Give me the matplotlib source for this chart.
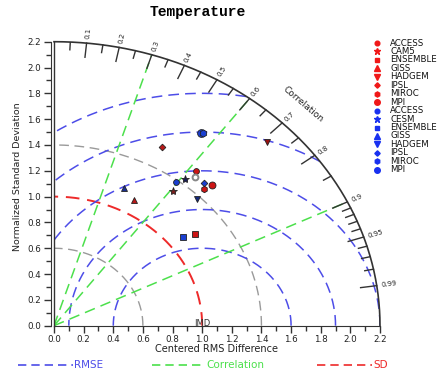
import numpy as np
import matplotlib.pyplot as plt
from matplotlib.lines import Line2D

# Normalized standard deviation and correlation of each model vs IMD
red_names = ["ACCESS", "CAM5", "ENSEMBLE", "GISS", "HADGEM", "IPSL", "MIROC", "MPI"]
red_std = [1.533, 1.315, 1.186, 1.115, 2.026, 1.567, 1.466, 1.528]
red_corr = [0.624, 0.612, 0.802, 0.486, 0.710, 0.464, 0.690, 0.700]

blue_names = ["ACCESS", "CESM", "ENSEMBLE", "GISS", "HADGEM", "IPSL", "MIROC", "MPI"]
blue_std = [1.383, 1.439, 1.109, 1.165, 1.378, 1.501, 1.797, 1.790]
blue_corr = [0.595, 0.614, 0.783, 0.405, 0.702, 0.674, 0.558, 0.555]

# extra open marker (unlabelled)
extra_std = [1.492]
extra_corr = [0.637]

marker_set = ["o", "*", "s", "^", "v", "D", "h", "o"]
marker_size = [4.2, 6.0, 4.4, 4.6, 4.6, 3.4, 4.6, 5.0]

rmse_levels = [0.6, 0.9, 1.2, 1.5, 1.8]
sd_levels = [0.6, 1.4]
ref_sd = 1.0
corr_lines = [0.3, 0.6, 0.9]
corr_major = [0.1, 0.2, 0.3, 0.4, 0.5, 0.6, 0.7, 0.8, 0.9, 0.95, 0.99]
corr_minor = [0.05, 0.15, 0.25, 0.35, 0.45, 0.55, 0.65, 0.75, 0.85,
              0.91, 0.92, 0.93, 0.94, 0.96, 0.97, 0.98]
RMAX = 2.2

BLUE = "#4d4de8"
GREEN = "#4ce04c"
RED = "#ee2a2a"
GRAY = "#9a9a9a"
dash = (0, (7, 4))

fig = plt.figure(figsize=(4.4, 3.75), dpi=100)
ax = fig.add_axes([54 / 440, 1 - 325.7 / 375, 326 / 440, 284 / 375])
ax.set_xlim(0, RMAX)
ax.set_ylim(0, RMAX)
for s in ["top", "right"]:
    ax.spines[s].set_visible(False)
ax.spines["left"].set_position(("outward", 2.5))
ax.spines["left"].set_color("#333333")
ax.spines["bottom"].set_color("#333333")

ticks = np.round(np.arange(0, 2.21, 0.2), 1)
ax.set_xticks(ticks)
ax.set_yticks(ticks)
ax.set_xticks(np.round(np.arange(0.1, 2.2, 0.2), 1), minor=True)
ax.set_yticks(np.round(np.arange(0.1, 2.2, 0.2), 1), minor=True)
ax.set_xticklabels([f"{t:.1f}" for t in ticks])
ax.set_yticklabels([f"{t:.1f}" for t in ticks])
ax.tick_params(which="major", length=5, width=1, labelsize=6.3, pad=2,
               color="#333333", labelcolor="#222222")
ax.tick_params(which="minor", length=3.5, width=1, color="#333333")

t = np.linspace(0, np.pi / 2, 400)

# circles about the origin
for r in sd_levels:
    ax.plot(r * np.cos(t), r * np.sin(t), color=GRAY, lw=1, ls=dash)
ax.plot(ref_sd * np.cos(t), ref_sd * np.sin(t), color=RED, lw=1.4, ls=dash)

# centered RMS difference arcs around the reference point
tt = np.linspace(0, np.pi, 600)
for r in rmse_levels:
    x = ref_sd + r * np.cos(tt)
    y = r * np.sin(tt)
    keep = (np.hypot(x, y) <= RMAX + 1e-3) & (x >= 0)
    ax.plot(np.where(keep, x, np.nan), np.where(keep, y, np.nan),
            color=BLUE, lw=1.1, ls=dash)

# correlation rays
for c in corr_lines:
    th = np.arccos(c)
    ax.plot([0, RMAX * np.cos(th)], [0, RMAX * np.sin(th)], color=GREEN, lw=1.1, ls=dash)

# outer arc with correlation ticks
ax.plot(RMAX * np.cos(t), RMAX * np.sin(t), color="#333333", lw=1.2, clip_on=False)
ax.plot([0, 0], [0, RMAX], color="#333333", lw=1, clip_on=False)
for c in corr_minor:
    th = np.arccos(c)
    ax.plot([RMAX * np.cos(th), (RMAX - 0.06) * np.cos(th)],
            [RMAX * np.sin(th), (RMAX - 0.06) * np.sin(th)], color="#333333", lw=1)
for c in corr_major:
    th = np.arccos(c)
    ax.plot([RMAX * np.cos(th), (RMAX - 0.11) * np.cos(th)],
            [RMAX * np.sin(th), (RMAX - 0.11) * np.sin(th)], color="#333333", lw=1)
    ax.text((RMAX + 0.03) * np.cos(th), (RMAX + 0.03) * np.sin(th), f"{c:g}",
            rotation=np.degrees(th), transform_rotates_text=True,
            rotation_mode="anchor", ha="left", va="center", fontsize=5,
            color="#222222", clip_on=False)

thc = np.arccos(0.70)
ax.text(2.4 * np.cos(thc), 2.4 * np.sin(thc), "Correlation",
        rotation=np.degrees(thc) - 90, transform_rotates_text=True,
        rotation_mode="anchor", ha="center", va="center", fontsize=6.5,
        color="#222222", clip_on=False)
ax.text(1.0, 0.02, "IMD", ha="center", va="center", fontsize=6, color="#333333")

# model points
def polar_xy(std, corr):
    std = np.asarray(std)
    corr = np.asarray(corr)
    return std * corr, std * np.sqrt(1 - corr ** 2)

rx, ry = polar_xy(red_std, red_corr)
bx, by = polar_xy(blue_std, blue_corr)
ex, ey = polar_xy(extra_std, extra_corr)

red_face = ["#cc1515", "#7a1f1f", "#cc1515", "#b81818", "#9a1010", "#b81818", "#cc1515", "#cc1515"]
blue_face = ["#1a3fd0", "#1a1f55", "#1a3fd0", "#1a2f90", "#14287a", "#1a3fd0", "#1a3fd0", "#1a3fd0"]

for i in [7, 6]:
    ax.plot(bx[i], by[i], marker=marker_set[i], ms=marker_size[i] + 0.6, mfc=blue_face[i],
            mec="#222222", mew=0.6, ls="none", zorder=5)
for i in range(6):
    ax.plot(bx[i], by[i], marker=marker_set[i], ms=marker_size[i], mfc=blue_face[i],
            mec="#222222", mew=0.6, ls="none", zorder=5)
for i in range(8):
    ax.plot(rx[i], ry[i], marker=marker_set[i], ms=marker_size[i], mfc=red_face[i],
            mec="#222222", mew=0.6, ls="none", zorder=5)
ax.plot(ex, ey, marker="o", ms=4.2, mfc="white", mec="#888888", mew=1.4, ls="none", zorder=5)

# side legend
names = red_names + blue_names
colors = ["#f01818"] * 8 + ["#1830f0"] * 8
for i, name in enumerate(names):
    yf = 1 - (43 + i * 8.45) / 375
    m = marker_set[i % 8]
    fig.add_artist(Line2D([377 / 440], [yf], transform=fig.transFigure, marker=m,
                          ms=marker_size[i % 8] * 0.8, mfc=colors[i], mec=colors[i], ls="none"))
    fig.text(390 / 440, yf, name, fontsize=6.2, va="center", ha="left", color="#111111")

# bottom key
key = [("RMSE", BLUE, 18, 73), ("Correlation", GREEN, 152, 205), ("SD", RED, 317, 372)]
for label, col, x0, x1 in key:
    yf = 1 - 365 / 375
    fig.add_artist(Line2D([x0 / 440, x1 / 440], [yf, yf], transform=fig.transFigure,
                          color=col, lw=1.2, ls=(0, (5, 3))))
    fig.text((x1 + 1) / 440, yf, label, color=col, fontsize=7.5, va="center", ha="left")

fig.text(198 / 440, 1 - 12 / 375, "Temperature", ha="center", va="center",
         family="Liberation Mono", weight="bold", fontsize=10.5)
fig.text(216.7 / 440, 1 - 349 / 375, "Centered RMS Difference", ha="center",
         va="center", fontsize=7, color="#222222")
fig.text(18 / 440, 1 - 177 / 375, "Normalized Standard Deviation", ha="center",
         va="center", rotation=90, fontsize=6.8, color="#222222")

fig.savefig("out.png", dpi=100)
